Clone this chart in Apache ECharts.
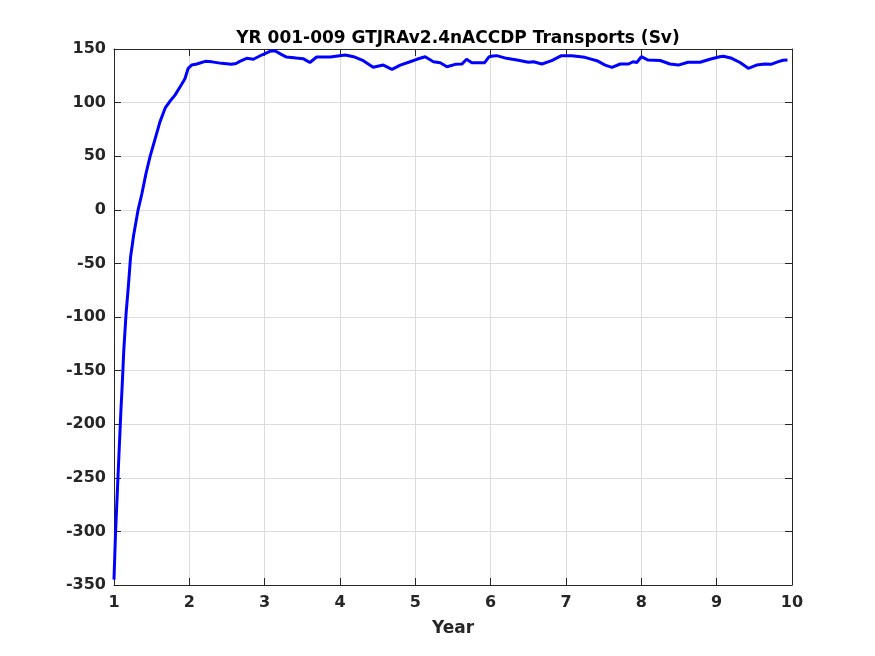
<!DOCTYPE html>
<html>
<head>
    <meta charset="utf-8">
    <title></title>
    <script src="https://cdn.jsdelivr.net/npm/echarts@6.0.0/dist/echarts.min.js"></script>
</head>
<body style="margin:0;background:#fff">
    <div id="main" style="width: 875px;height:656px;"></div>
    <script type="text/javascript">
var myChart = echarts.init(document.getElementById('main'));

// (year, transport in Sv)
var years = [1.00, 1.02, 1.045, 1.066, 1.09, 1.11, 1.13, 1.16, 1.19, 1.22, 1.26, 1.32, 1.37, 1.425, 1.48,
  1.545, 1.61, 1.68, 1.74, 1.81, 1.88, 1.94, 1.985, 2.03, 2.10, 2.21, 2.30, 2.43, 2.56, 2.62, 2.67,
  2.76, 2.85, 2.96, 3.07, 3.12, 3.16, 3.22, 3.29, 3.42, 3.51, 3.60, 3.69, 3.87, 4.02, 4.07, 4.18,
  4.31, 4.44, 4.575, 4.69, 4.80, 4.93, 5.02, 5.13, 5.24, 5.33, 5.42, 5.53, 5.62, 5.68, 5.75, 5.92,
  5.98, 6.03, 6.08, 6.21, 6.35, 6.50, 6.57, 6.68, 6.81, 6.94, 7.075, 7.25, 7.41, 7.52, 7.61, 7.72,
  7.83, 7.89, 7.94, 8.00, 8.09, 8.25, 8.38, 8.49, 8.62, 8.78, 8.91, 9.04, 9.09, 9.20, 9.31, 9.42,
  9.53, 9.64, 9.72, 9.81, 9.88, 9.94]
var transport = [-345, -302, -262, -228, -190, -162, -131, -97, -72, -44, -24, 0, 15, 34, 50,
  66, 82, 95, 101, 107, 115, 122, 132, 135, 136, 138.5, 138, 136.6, 135.8, 136.5, 138.5,
  141.3, 140.4, 144.4, 147.8, 148.4, 147.5, 145, 142.5, 141.5, 141, 137.4, 142.5, 142.5, 144, 144.4, 142.8,
  139.1, 133, 135, 131, 135, 138.1, 140.4, 142.8, 138.1, 137.2, 133.5, 135.7, 136, 140.4, 137.2, 137.2,
  142.8, 143.5, 143.8, 141.3, 139.7, 137.6, 138.1, 136, 139.1, 143.8, 143.8, 142.2, 139.1, 135, 132.9, 136,
  136, 138.1, 137.4, 142.8, 139.7, 139.3, 136, 135, 137.6, 137.6, 140.4, 142.8, 143.2, 141.3, 137.4, 132,
  135, 136, 135.7, 138, 139.5, 139.7]

var xTicks = { min: 1, max: 10, interval: 1 }
var yTicks = { min: -350, max: 150, interval: 50 }

var pts = []
for (var i = 0; i < years.length; i++) {
  pts.push([years[i], transport[i]])
}

var txt = '#262626'
var font = 'DejaVu Sans'

function axisBase(pos, show) {
  return {
    type: 'value',
    position: pos,
    axisLine: { show: true, onZero: false, lineStyle: { color: txt, width: 1 } },
    axisTick: { show: true, inside: true, length: 7, lineStyle: { color: txt } },
    axisLabel: {
      show: show,
      color: txt,
      fontSize: 16,
      fontWeight: 'bold',
      fontFamily: font
    },
    splitLine: { show: show, lineStyle: { color: '#dcdcdc', width: 1 } }
  }
}

var xBottom = axisBase('bottom', true)
Object.assign(xBottom, xTicks, {
  name: 'Year',
  nameLocation: 'middle',
  nameGap: 35,
  nameTextStyle: { color: txt, fontSize: 17, fontWeight: 'bold', fontFamily: font }
})
xBottom.axisLabel.margin = 10
var xTop = axisBase('top', false)
Object.assign(xTop, xTicks)

var yLeft = axisBase('left', true)
Object.assign(yLeft, yTicks)
yLeft.axisLabel.margin = 8
var yRight = axisBase('right', false)
Object.assign(yRight, yTicks)

option = {
  backgroundColor: '#fff',
  animation: false,
  title: {
    text: 'YR 001-009 GTJRAv2.4nACCDP Transports (Sv)',
    left: 453,
    textAlign: 'center',
    top: 25,
    textStyle: { color: '#000', fontSize: 17, fontWeight: 'bold', fontFamily: font }
  },
  grid: {
    left: 114,
    right: 83,
    top: 49,
    bottom: 71
  },
  xAxis: [xBottom, xTop],
  yAxis: [yLeft, yRight],
  series: [{
    type: 'line',
    data: pts,
    showSymbol: false,
    smooth: false,
    lineStyle: { color: '#0000ff', width: 3 },
    itemStyle: { color: '#0000ff' }
  }]
}
myChart.setOption(option);
    </script>
</body>
</html>
